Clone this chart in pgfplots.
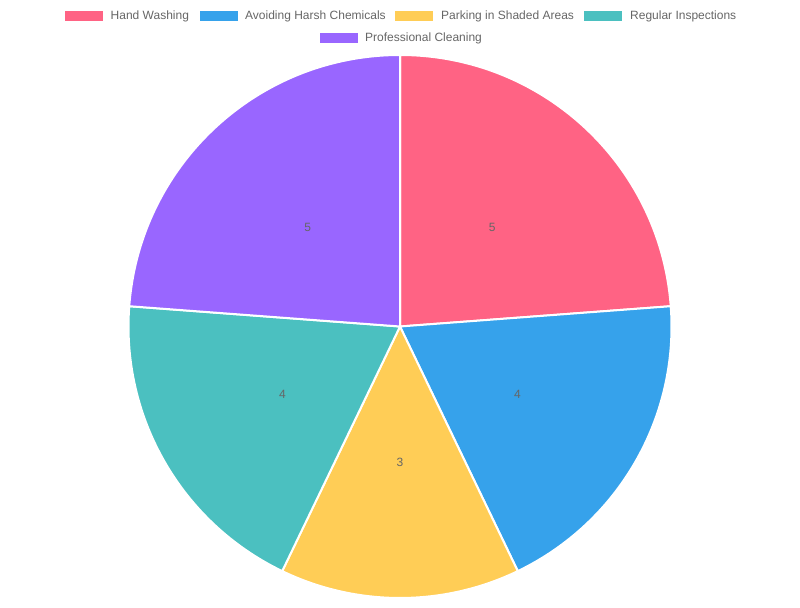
\documentclass[border=0pt]{standalone}
\usepackage{fontspec}
\setmainfont{Liberation Sans}
\usepackage{pgfplots}
\usepackage{pgfplotstable}
\usetikzlibrary{calc}
\pgfplotsset{compat=1.18}
\definecolor{c1}{RGB}{255,99,132}
\definecolor{c2}{RGB}{54,162,235}
\definecolor{c3}{RGB}{255,205,86}
\definecolor{c4}{RGB}{75,192,192}
\definecolor{c5}{RGB}{153,102,255}
\definecolor{txt}{HTML}{666666}
\pgfplotstableread[col sep=comma]{
label,value
Hand Washing,5
Avoiding Harsh Chemicals,4
Parking in Shaded Areas,3
Regular Inspections,4
Professional Cleaning,5
}\piedata
\begin{document}
\begin{tikzpicture}
\begin{axis}[
  width=800pt, height=600pt, scale only axis,
  xmin=0, xmax=800, ymin=0, ymax=600,
  hide axis, clip=false,
]
\addplot[draw=none] coordinates {(0,0) (800,600)};
\pgfplotsextra{
  % total
  \gdef\total{0}
  \foreach \i in {0,...,4}{
    \pgfplotstablegetelem{\i}{value}\of\piedata
    \pgfmathsetmacro\t{\total+\pgfplotsretval}
    \xdef\total{\t}
  }
  \gdef\cum{0}
  \foreach \i/\col in {0/c1,1/c2,2/c3,3/c4,4/c5}{
    \pgfplotstablegetelem{\i}{value}\of\piedata
    \let\v\pgfplotsretval
    \pgfmathsetmacro\a{90-\cum*360/\total}
    \pgfmathsetmacro\b{90-(\cum+\v)*360/\total}
    \pgfmathsetmacro\m{(\a+\b)/2}
    \fill[\col, draw=white, line width=2pt, line join=round]
      (axis cs:400,273.5) -- ++(\a:271.5pt) arc[start angle=\a, end angle=\b, radius=271.5pt] -- cycle;
    \node[text=txt, font=\fontsize{12}{14}\selectfont] at ($(axis cs:400,273.5)+(\m:135.7pt)$) {\v};
    \pgfmathsetmacro\c{\cum+\v}
    \xdef\cum{\c}
  }
}
% legend
\pgfplotsextra{
  \begin{scope}[font=\fontsize{12}{14}\selectfont, text=txt]
  \fill[c1] (axis cs:65,579) rectangle (axis cs:103,589);
  \node[anchor=west, inner sep=0pt] at (axis cs:110.5,583.3) {Hand Washing};
  \fill[c2] (axis cs:200,579) rectangle (axis cs:238,589);
  \node[anchor=west, inner sep=0pt] at (axis cs:245,583.3) {Avoiding Harsh Chemicals};
  \fill[c3] (axis cs:395,579) rectangle (axis cs:433,589);
  \node[anchor=west, inner sep=0pt] at (axis cs:441,583.3) {Parking in Shaded Areas};
  \fill[c4] (axis cs:584,579) rectangle (axis cs:622,589);
  \node[anchor=west, inner sep=0pt] at (axis cs:630,583.3) {Regular Inspections};
  \fill[c5] (axis cs:320,557) rectangle (axis cs:358,567);
  \node[anchor=west, inner sep=0pt] at (axis cs:365,561.3) {Professional Cleaning};
  \end{scope}
}
\end{axis}
\end{tikzpicture}
\end{document}
